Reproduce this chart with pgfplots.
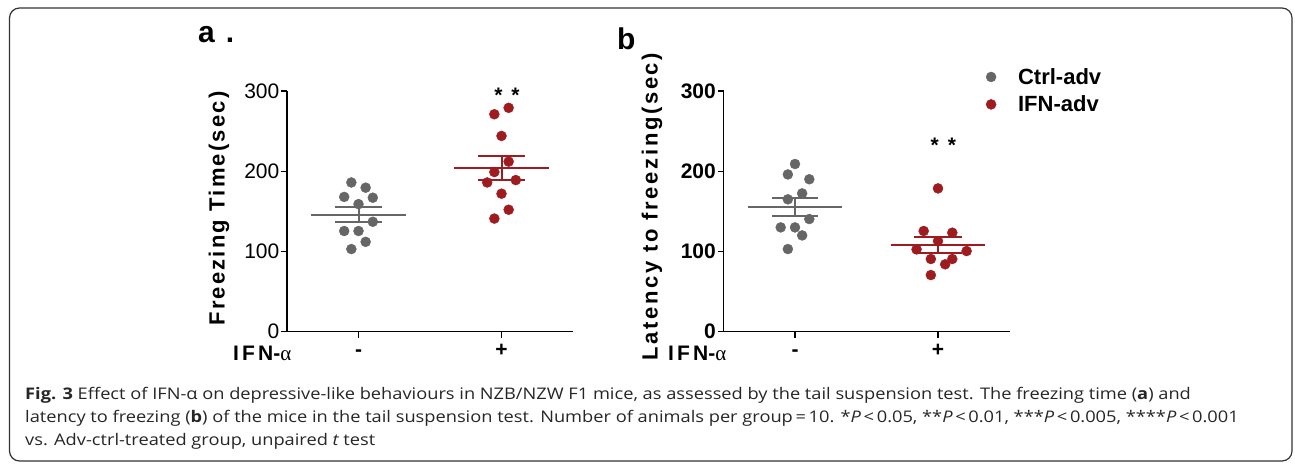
\documentclass[border=0pt]{standalone}
\usepackage{pgfplots}
\pgfplotsset{compat=1.18}
\usepackage{fontspec}
\setmainfont{Liberation Sans}
\newfontfamily\spaced[LetterSpace=10]{Liberation Sans}
\newfontfamily\spacedb[LetterSpace=12]{Liberation Sans}
\newfontfamily\spacedc[LetterSpace=15]{Liberation Sans}
\newfontfamily\grk{Liberation Serif}
\newfontfamily\capfont[FakeStretch=1.14]{Open Sans}
\definecolor{ctrl}{HTML}{666666}
\definecolor{ifn}{HTML}{9E1B20}

\pgfplotsset{
  panel/.style={
    scale only axis, width=286pt, height=240.7pt,
    xmin=0.5, xmax=2.5, ymin=0, ymax=300,
    axis x line*=bottom, axis y line*=left,
    axis line style={line width=1.2pt, -},
    tick align=outside, major tick length=6pt,
    every tick/.style={line width=1.2pt, black},
    xtick={1,2}, xticklabels={-,+},
    ytick={0,100,200,300},
    clip=false,
    /pgf/number format/assume math mode=true,
    xticklabel style={font=\fontsize{21}{24}\selectfont\bfseries, anchor=base, yshift=-19pt},
    yticklabel style={inner sep=1.5pt},
  },
  dots/.style={only marks, mark=*, mark size=5pt, #1, mark options={draw=#1, fill=#1}},
  bar/.style={#1, line width=2pt, forget plot},
}

\begin{document}
\begin{tikzpicture}[x=1pt,y=1pt]
\useasboundingbox (0,0) rectangle (1295,463);
\draw[black!80, line width=1.2pt, rounded corners=10pt] (9.5,455) rectangle (1292,2);

% panel letters
\node[anchor=base west, inner sep=0, font=\fontsize{30}{36}\selectfont\bfseries] at (198,420) {a\hspace{11pt}.};
\node[anchor=base west, inner sep=0, font=\fontsize{30}{36}\selectfont\bfseries] at (617,413) {b};

% panel a
\begin{axis}[panel, at={(287pt,131.3pt)}, anchor=south west,
  yticklabel style={font=\fontsize{21}{24}\selectfont},
  ylabel={\spaced\bfseries Freezing Time(sec)},
  ylabel style={at={(axis description cs:-0.238,0.512)}, anchor=center, font=\fontsize{22}{26}\selectfont}]
\addplot[dots=ctrl] coordinates {(0.95,186) (1.05,179.5) (0.9,168) (1.1,167) (1.0,159) (1.1,137) (0.9,125.5) (1.0,125.5) (1.05,112) (0.95,103)};
\addplot[dots=ifn] coordinates {(2.05,279) (1.95,271) (2.0,244) (2.05,212) (1.95,199) (1.9,186) (2.1,189) (2.0,172) (2.05,152) (1.95,141)};
\addplot[bar=ctrl] coordinates {(0.67,145.8) (1.33,145.8)};
\addplot[bar=ctrl] coordinates {(0.833,155) (1.167,155)};
\addplot[bar=ctrl] coordinates {(0.833,136.7) (1.167,136.7)};
\addplot[bar=ctrl] coordinates {(1,136.7) (1,155)};
\addplot[bar=ifn] coordinates {(1.667,204.4) (2.333,204.4)};
\addplot[bar=ifn] coordinates {(1.834,219.4) (2.166,219.4)};
\addplot[bar=ifn] coordinates {(1.834,189.4) (2.166,189.4)};
\addplot[bar=ifn] coordinates {(2,189.4) (2,219.4)};
\node[anchor=base, font=\fontsize{21}{24}\selectfont\bfseries] at (axis cs:2.038,286) {*\hspace{9pt}*};
\node[anchor=base west, inner sep=0, font=\fontsize{21}{24}\selectfont] at (axis description cs:-0.189,-0.1176) {{\spacedc\bfseries IFN}{\bfseries -}{\grk α}};
\end{axis}

% panel b
\begin{axis}[panel, at={(723.5pt,131.3pt)}, anchor=south west,
  yticklabel style={font=\fontsize{21}{24}\selectfont\bfseries},
  ylabel={\spacedb\bfseries Latency to freezing(sec)},
  ylabel style={at={(axis description cs:-0.25,0.52)}, anchor=center, font=\fontsize{22}{26}\selectfont},
  legend style={draw=none, fill=none, at={(axis description cs:0.907,1.112)}, anchor=north west,
    font=\fontsize{22}{26}\selectfont\bfseries, row sep=6pt,
    /tikz/every odd column/.append style={column sep=20pt}},
  legend cell align=left]
\addplot[dots=ctrl] coordinates {(1.0,209) (0.95,196) (1.1,190) (1.05,172.4) (0.95,165) (1.1,140.4) (0.9,130) (1.0,130) (1.05,120) (0.95,103)};
\addplot[dots=ifn] coordinates {(2.0,178.6) (1.9,125.5) (2.1,123.4) (2.0,113) (1.85,102.6) (2.2,100.5) (1.95,90.6) (2.1,90.6) (2.05,84) (1.95,70.6)};
\addplot[bar=ctrl] coordinates {(0.67,155.8) (1.33,155.8)};
\addplot[bar=ctrl] coordinates {(0.84,167) (1.16,167)};
\addplot[bar=ctrl] coordinates {(0.84,144.6) (1.16,144.6)};
\addplot[bar=ctrl] coordinates {(1,144.6) (1,167)};
\addplot[bar=ifn] coordinates {(1.67,107.6) (2.33,107.6)};
\addplot[bar=ifn] coordinates {(1.835,117.6) (2.165,117.6)};
\addplot[bar=ifn] coordinates {(1.835,98.5) (2.165,98.5)};
\addplot[bar=ifn] coordinates {(2,98.5) (2,117.6)};
\legend{Ctrl-adv, IFN-adv}
\node[anchor=base, font=\fontsize{21}{24}\selectfont\bfseries] at (axis cs:2.037,223) {*\hspace{9pt}*};
\node[anchor=base west, inner sep=0, font=\fontsize{21}{24}\selectfont] at (axis description cs:-0.194,-0.1176) {{\spacedc\bfseries IFN}{\bfseries -}{\grk α}};
\end{axis}

% caption
\node[anchor=base west, align=left, inner sep=0, text=black!85, font=\capfont\fontsize{16}{23}\selectfont] at (25,18) {%
{\bfseries Fig. 3} Effect of IFN-α on depressive-like behaviours in NZB/NZW F1 mice, as assessed by the tail suspension test. The freezing time ({\bfseries a}) and\\
latency to freezing ({\bfseries b}) of the mice in the tail suspension test. Number of animals per group\,=\,10. *{\itshape P}\,<\,0.05, **{\itshape P}\,<\,0.01, ***{\itshape P}\,<\,0.005, ****{\itshape P}\,<\,0.001\\
vs. Adv-ctrl-treated group, unpaired {\itshape t} test};
\end{tikzpicture}
\end{document}
